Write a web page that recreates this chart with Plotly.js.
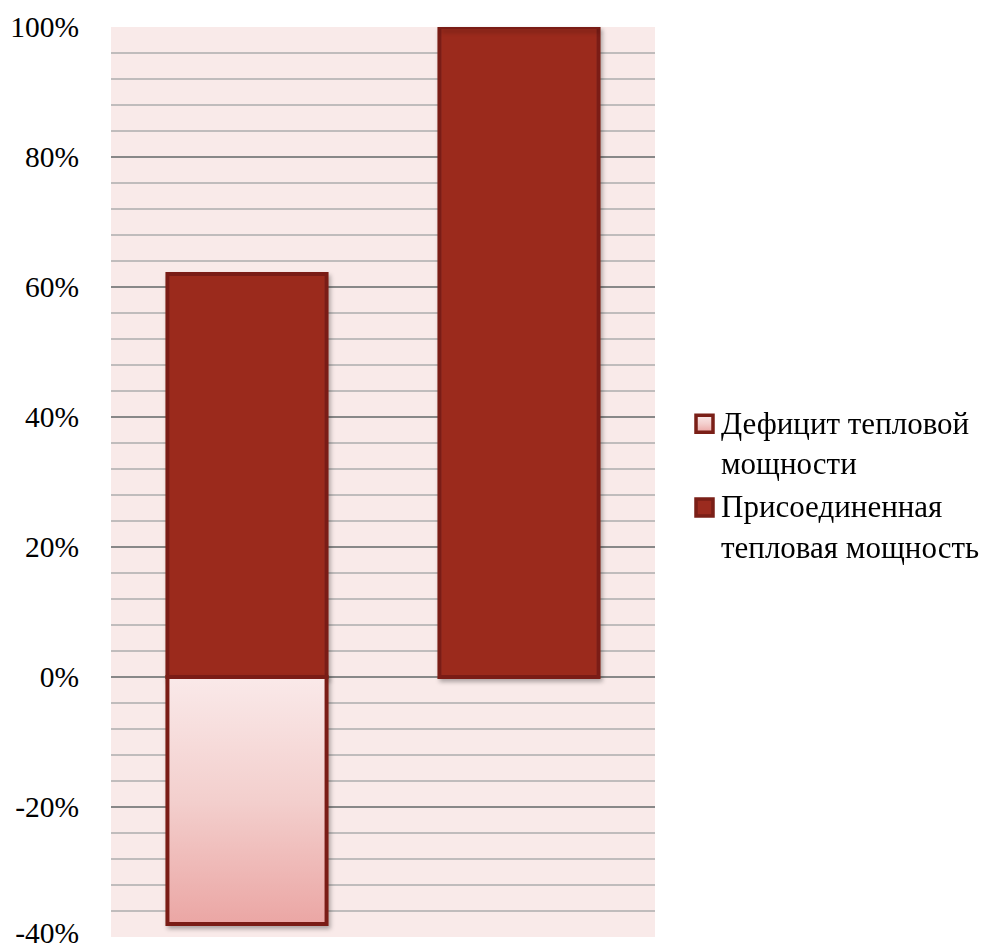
<!DOCTYPE html>
<html>
<head>
<meta charset="utf-8">
<script src="https://cdn.plot.ly/plotly-3.0.1.min.js"></script>
<style>
  html, body { margin: 0; padding: 0; background: #ffffff; }
  #chart { width: 990px; height: 950px; }
</style>
</head>
<body>
<div id="chart"></div>
<script>
// Share of heat capacity, percent
const categories = ['1', '2'];
const connectedName = 'Присоединенная<br>тепловая мощность';
const deficitName = 'Дефицит тепловой<br>мощности';
const connectedValues = [62, 100];
const deficitValues = [-38, 0];
const yTickValues = [-40, -20, 0, 20, 40, 60, 80, 100];
const yTickLabels = ['-40%', '-20%', '0%', '20%', '40%', '60%', '80%', '100%'];

const fontFamily = '"Liberation Serif", "Times New Roman", serif';
const borderColor = '#7a1f17';

const traces = [
  {
    type: 'bar',
    name: connectedName,
    x: categories,
    y: connectedValues,
    marker: { color: '#9b2b1f', line: { color: borderColor, width: 4 } },
    cliponaxis: false,
    hoverinfo: 'skip'
  },
  {
    type: 'bar',
    name: deficitName,
    x: categories,
    y: deficitValues,
    marker: { color: '#f2c6c4', line: { color: borderColor, width: 4 } },
    cliponaxis: false,
    hoverinfo: 'skip'
  }
];

const layout = {
  width: 990,
  height: 950,
  margin: { l: 111, r: 335, t: 27, b: 13, autoexpand: false },
  paper_bgcolor: '#ffffff',
  plot_bgcolor: '#f9eae9',
  barmode: 'relative',
  bargap: 0.415,
  showlegend: true,
  font: { family: fontFamily, size: 29.5, color: '#000000' },
  xaxis: {
    type: 'category',
    showticklabels: false,
    showgrid: false,
    zeroline: false,
    showline: false,
    ticks: ''
  },
  yaxis: {
    range: [-40, 100],
    tickmode: 'array',
    tickvals: yTickValues,
    ticktext: yTickLabels,
    ticklabeloverflow: 'allow',
    showgrid: true,
    gridcolor: '#888888',
    gridwidth: 1.5,
    zeroline: false,
    showline: false,
    ticks: 'outside',
    ticklen: 25,
    tickcolor: 'rgba(0,0,0,0)',
    tickfont: { family: fontFamily, size: 29.5, color: '#000000' },
    minor: { dtick: 4, showgrid: true, gridcolor: '#c0bcbc', gridwidth: 1.5, ticks: '' }
  },
  legend: {
    x: 1.0478,
    xanchor: 'left',
    y: 0.5956,
    yanchor: 'top',
    traceorder: 'reversed',
    font: { family: fontFamily, size: 31, color: '#000000' },
    bgcolor: 'rgba(0,0,0,0)',
    itemclick: false,
    itemdoubleclick: false
  }
};

Plotly.newPlot('chart', traces, layout, { displayModeBar: false, staticPlot: true }).then(function (gd) {
  const svgNS = 'http://www.w3.org/2000/svg';
  const svg = gd.querySelector('.main-svg');
  let defs = svg.querySelector('defs');
  if (!defs) { defs = document.createElementNS(svgNS, 'defs'); svg.insertBefore(defs, svg.firstChild); }

  // vertical pink gradient for the deficit bar
  const grad = document.createElementNS(svgNS, 'linearGradient');
  grad.setAttribute('id', 'deficitFill');
  grad.setAttribute('x1', '0'); grad.setAttribute('y1', '0');
  grad.setAttribute('x2', '0'); grad.setAttribute('y2', '1');
  [['0', '#fae9e9'], ['0.5', '#f3cfcd'], ['1', '#eba6a4']].forEach(function (s) {
    const stop = document.createElementNS(svgNS, 'stop');
    stop.setAttribute('offset', s[0]);
    stop.setAttribute('stop-color', s[1]);
    grad.appendChild(stop);
  });
  defs.appendChild(grad);

  // soft drop shadow under the bars
  const filter = document.createElementNS(svgNS, 'filter');
  filter.setAttribute('id', 'barShadow');
  filter.setAttribute('x', '-10%'); filter.setAttribute('y', '-10%');
  filter.setAttribute('width', '130%'); filter.setAttribute('height', '130%');
  const shadow = document.createElementNS(svgNS, 'feDropShadow');
  shadow.setAttribute('dx', '2'); shadow.setAttribute('dy', '3');
  shadow.setAttribute('stdDeviation', '2');
  shadow.setAttribute('flood-color', '#000000');
  shadow.setAttribute('flood-opacity', '0.3');
  filter.appendChild(shadow);
  defs.appendChild(filter);

  const barTraces = gd.querySelectorAll('.barlayer .trace');
  barTraces.forEach(function (t) { t.setAttribute('filter', 'url(#barShadow)'); });
  if (barTraces[1]) {
    barTraces[1].querySelectorAll('path').forEach(function (p) { p.style.fill = 'url(#deficitFill)'; });
  }

  // keep the lowest tick label inside the page
  gd.querySelectorAll('.ytick text').forEach(function (t) {
    if (t.textContent === yTickLabels[0]) {
      const prev = t.getAttribute('transform') || '';
      t.setAttribute('transform', prev + ' translate(0,-4)');
    }
  });

  // larger square legend swatches, aligned with the first text line
  const legendItems = gd.querySelectorAll('.legend .traces');
  legendItems.forEach(function (item) {
    const label = item.querySelector('.legendtext');
    const isDeficit = label && label.textContent.indexOf('Дефицит') === 0;
    item.querySelectorAll('.legendpoints path').forEach(function (p) {
      const prev = p.getAttribute('transform') || '';
      p.setAttribute('d', 'M8.5,8.5H-8.5V-8.5H8.5Z');
      p.setAttribute('transform', prev + ' translate(3.5,-18)');
      p.style.strokeWidth = '3.5px';
      if (isDeficit) p.style.fill = 'url(#deficitFill)';
    });
  });
});
</script>
</body>
</html>
